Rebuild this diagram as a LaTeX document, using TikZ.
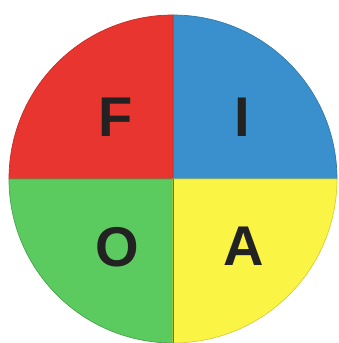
\documentclass[tikz,border=0pt]{standalone}
\usepackage{fontspec}
\setmainfont{Liberation Sans}
\usepackage{tikz}
\usepackage{xcolor}
\definecolor{fioRed}{HTML}{E8352F}
\definecolor{fioBlue}{HTML}{3A90CC}
\definecolor{fioGreen}{HTML}{5BCB5F}
\definecolor{fioYellow}{HTML}{FAF545}
\definecolor{fioInk}{HTML}{222222}
\tikzset{
  quad/.style={line width=0.7pt},
  letter/.style={font=\fontsize{56}{56}\selectfont\bfseries,text=fioInk,inner sep=0pt}
}
\begin{document}
\begin{tikzpicture}[x=1pt,y=1pt]
\useasboundingbox (-173,-164) rectangle (166,179);
\coordinate (c) at (0,0);
\filldraw[quad,fill=fioBlue,draw=fioBlue!85!black] (c) -- (164,0) arc[start angle=0,end angle=90,radius=164] -- cycle;
\filldraw[quad,fill=fioRed,draw=fioRed!85!black] (c) -- (0,164) arc[start angle=90,end angle=180,radius=164] -- cycle;
\filldraw[quad,fill=fioGreen,draw=fioGreen!80!black] (c) -- (-164,0) arc[start angle=180,end angle=270,radius=164] -- cycle;
\filldraw[quad,fill=fioYellow,draw=fioYellow!85!black] (c) -- (0,-164) arc[start angle=270,end angle=360,radius=164] -- cycle;
\draw[line width=0.8pt,fioGreen!70!black] (c) -- (0,-164);
\node[letter] (f) at (-57,62) {F};
\node[letter] (i) at (69,62) {I};
\node[letter] (o) at (-56,-68) {O};
\node[letter] (a) at (71,-67) {A};
\end{tikzpicture}
\end{document}
